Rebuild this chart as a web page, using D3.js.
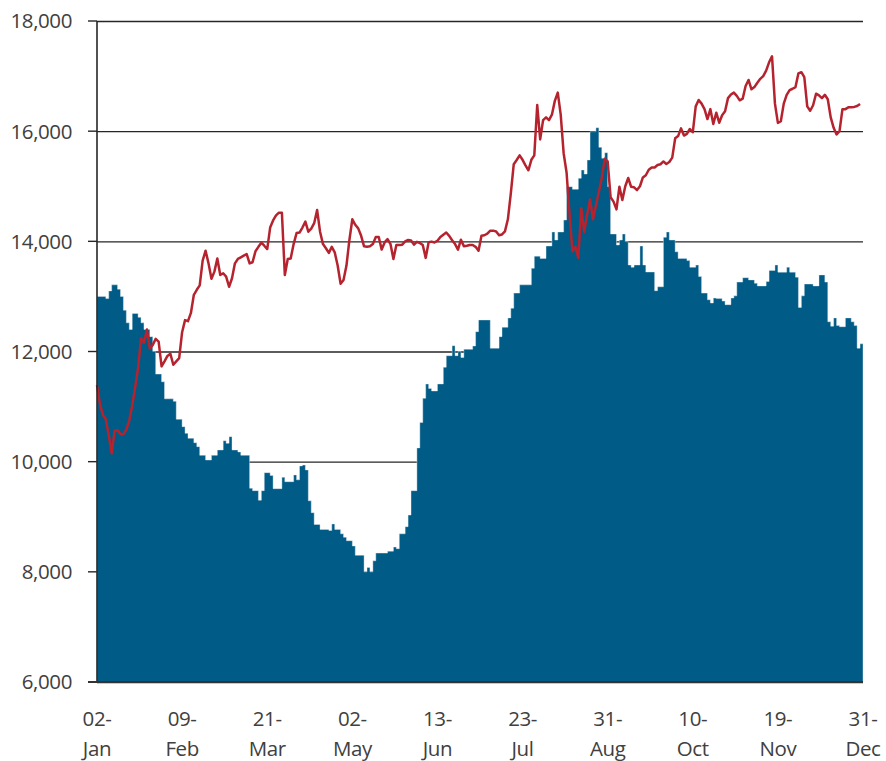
<!DOCTYPE html>
<html>
<head>
<meta charset="utf-8">
<script src="https://cdn.jsdelivr.net/npm/d3@7/dist/d3.min.js"></script>
<style>
  body { margin: 0; background: #fff; }
  svg text { font-family: 'Open Sans', 'Noto Sans', sans-serif; fill: #404040; }
</style>
</head>
<body>
<svg id="chart" width="886" height="761"></svg>
<script>
// trading-day index ticks (every 29 days)
const tickDays = ['02', '09', '21', '02', '13', '23', '31', '10', '19', '31'];
const tickMonths = ['Jan', 'Feb', 'Mar', 'May', 'Jun', 'Jul', 'Aug', 'Oct', 'Nov', 'Dec'];
const yTicks = [6000, 8000, 10000, 12000, 14000, 16000, 18000];

// blue columns (daily)
const volume = [
  13000, 13000, 13000, 12960, 13100, 13210, 13210, 13130, 13000, 12750,
  12520, 12400, 12690, 12690, 12620, 12520, 12400, 12400, 12270, 12000,
  11590, 11590, 11450, 11140, 11140, 11140, 11095, 10770, 10770, 10635,
  10514, 10424, 10424, 10344, 10272, 10115, 10115, 10030, 10030, 10115,
  10115, 10212, 10212, 10381, 10333, 10454, 10212, 10212, 10176, 10115,
  10115, 10115, 9517, 9474, 9474, 9300, 9474, 9800, 9800, 9750,
  9510, 9510, 9510, 9715, 9636, 9636, 9636, 9760, 9670, 9922,
  9940, 9850, 9290, 9074, 8860, 8860, 8770, 8770, 8770, 8750,
  8870, 8770, 8770, 8690, 8627, 8565, 8565, 8470, 8300, 8300,
  8300, 8000, 8080, 8000, 8200, 8340, 8340, 8340, 8340, 8375,
  8375, 8450, 8420, 8690, 8690, 8820, 9030, 9474, 9474, 10250,
  10710, 11150, 11410, 11330, 11283, 11283, 11410, 11410, 11714, 11924,
  11924, 12105, 11924, 12000, 11890, 12040, 12040, 12040, 12100, 12360,
  12572, 12572, 12572, 12572, 12060, 12060, 12060, 12270, 12440, 12440,
  12610, 12785, 13060, 13060, 13210, 13210, 13210, 13210, 13510, 13730,
  13730, 13690, 13690, 13915, 13915, 14170, 14024, 14170, 14170, 14387,
  14992, 14992, 14945, 14945, 15144, 15295, 15222, 15477, 15990, 15990,
  16063, 15707, 15507, 15610, 14992, 14133, 14133, 13933, 14024, 14133,
  13994, 13570, 13530, 13570, 13570, 13915, 13570, 13443, 13443, 13443,
  13104, 13175, 13175, 14073, 14170, 14024, 14024, 13810, 13690, 13690,
  13690, 13650, 13530, 13530, 13570, 13360, 13060, 13060, 12940, 12880,
  12970, 12960, 12960, 12915, 12850, 12850, 12970, 13010, 13260, 13260,
  13340, 13340, 13300, 13300, 13240, 13190, 13190, 13190, 13270, 13470,
  13470, 13570, 13440, 13440, 13440, 13530, 13440, 13440, 13350, 12800,
  13010, 13225, 13225, 13225, 13190, 13190, 13390, 13390, 13260, 12540,
  12460, 12610, 12470, 12450, 12450, 12610, 12610, 12540, 12470, 12060,
  12140
];

// red line (daily)
const price = [
  11390, 11050, 10850, 10770, 10480, 10150, 10560, 10570, 10500, 10500,
  10580, 10750, 11020, 11350, 11700, 12240, 12160, 12400, 12050, 12120,
  12230, 12180, 11730, 11820, 11920, 11960, 11760, 11820, 11880, 12350,
  12570, 12550, 12700, 13030, 13120, 13200, 13650, 13830, 13600, 13320,
  13450, 13690, 13390, 13420, 13360, 13175, 13330, 13600, 13680, 13710,
  13740, 13770, 13600, 13620, 13820, 13900, 13975, 13920, 13860, 14250,
  14380, 14470, 14520, 14520, 13390, 13680, 13690, 13950, 14150, 14160,
  14250, 14357, 14175, 14230, 14330, 14570, 14175, 13950, 13875, 13790,
  13900, 13800, 13560, 13230, 13300, 13560, 14024, 14400, 14300, 14236,
  14100, 13910, 13903, 13910, 13950, 14080, 14080, 13850, 13980, 14040,
  13950, 13680, 13933, 13933, 13940, 14000, 14024, 14015, 13940, 13990,
  13970, 13933, 13700, 13985, 13995, 13980, 14010, 14080, 14120, 14160,
  14100, 14020, 13950, 13850, 14030, 13910, 13920, 13933, 13933, 13900,
  13830, 14100, 14110, 14140, 14194, 14194, 14180, 14110, 14125, 14180,
  14400, 14870, 15400, 15477, 15560, 15480, 15380, 15290, 15480, 15560,
  16475, 15850, 16200, 16250, 16200, 16300, 16550, 16700, 16300, 15600,
  15250, 14500, 13820, 13900, 13700, 14600, 14175, 14480, 14760, 14400,
  14650, 14900, 15150, 15500, 15450, 14800, 14720, 14580, 14992, 14750,
  15000, 15150, 14990, 14980, 14930, 15000, 15160, 15200, 15300, 15340,
  15340, 15385, 15400, 15450, 15405, 15440, 15520, 15870, 15910, 16050,
  15920, 15950, 16040, 15980, 16450, 16566, 16500, 16400, 16220, 16400,
  16130, 16335, 16154, 16290, 16360, 16600, 16665, 16700, 16640, 16560,
  16590, 16820, 16930, 16760, 16800, 16880, 16950, 17000, 17100, 17250,
  17360, 16500, 16150, 16180, 16500, 16660, 16745, 16770, 16800, 17050,
  17070, 16980, 16450, 16370, 16470, 16680, 16650, 16600, 16660, 16580,
  16250, 16060, 15940, 16000, 16400, 16400, 16433, 16433, 16440, 16457,
  16494
];

const margin = { top: 21, right: 23, bottom: 79, left: 97 };
const width = 886, height = 761;
const svg = d3.select('#chart');

const x = d3.scaleLinear().domain([0, volume.length]).range([margin.left, width - margin.right]);
const y = d3.scaleLinear().domain([6000, 18000]).range([height - margin.bottom, margin.top]);

// gridlines + left ticks (behind the columns)
svg.append('g')
  .attr('transform', `translate(${margin.left},0)`)
  .call(d3.axisLeft(y).tickValues(yTicks).tickSize(-(x.range()[1] - margin.left)).tickFormat(''))
  .call((g) => g.select('.domain').remove())
  .call((g) => g.selectAll('line').attr('stroke', '#262626').attr('stroke-width', 1.4));
svg.append('g')
  .selectAll('line')
  .data(yTicks)
  .join('line')
  .attr('x1', margin.left - 9)
  .attr('x2', margin.left)
  .attr('y1', (d) => y(d))
  .attr('y2', (d) => y(d))
  .attr('stroke', '#262626')
  .attr('stroke-width', 1.4);

// stepped columns
const stepData = volume.map((v, i) => [i, v]).concat([[volume.length, volume[volume.length - 1]]]);
svg.append('path')
  .datum(stepData)
  .attr('fill', '#005b86')
  .attr('stroke', '#e6eef3')
  .attr('stroke-width', 0.4)
  .attr('d', d3.area().curve(d3.curveStepAfter)
    .x((d) => x(d[0]))
    .y0(y(6000))
    .y1((d) => y(d[1])));

// red line
svg.append('path')
  .datum(price)
  .attr('fill', 'none')
  .attr('stroke', '#b5232e')
  .attr('stroke-width', 2.5)
  .attr('stroke-linejoin', 'round')
  .attr('d', d3.line().x((d, i) => x(i)).y((d) => y(d)));

// axis lines
svg.append('line')
  .attr('x1', margin.left).attr('x2', margin.left)
  .attr('y1', y(18000)).attr('y2', y(6000))
  .attr('stroke', '#262626').attr('stroke-width', 1.6);
svg.append('line')
  .attr('x1', margin.left - 9).attr('x2', x.range()[1])
  .attr('y1', y(6000)).attr('y2', y(6000))
  .attr('stroke', '#333').attr('stroke-width', 1.8);

// y labels
svg.append('g')
  .selectAll('text')
  .data(yTicks)
  .join('text')
  .attr('x', 72)
  .attr('y', (d) => y(d))
  .attr('dy', '0.36em')
  .attr('text-anchor', 'end')
  .style('font-size', '20.5px')
  .style('letter-spacing', '-0.4px')
  .text((d) => d3.format(',')(d));

// x labels, two lines each
const xl = svg.append('g')
  .selectAll('text')
  .data(tickDays)
  .join('text')
  .attr('text-anchor', 'middle')
  .style('font-size', '20.5px')
  .style('letter-spacing', '-0.4px');
xl.append('tspan')
  .attr('x', (d, i) => x(i * 29))
  .attr('y', 726)
  .text((d) => `${d}-`);
xl.append('tspan')
  .attr('x', (d, i) => x(i * 29))
  .attr('y', 756)
  .text((d, i) => tickMonths[i]);
</script>
</body>
</html>
